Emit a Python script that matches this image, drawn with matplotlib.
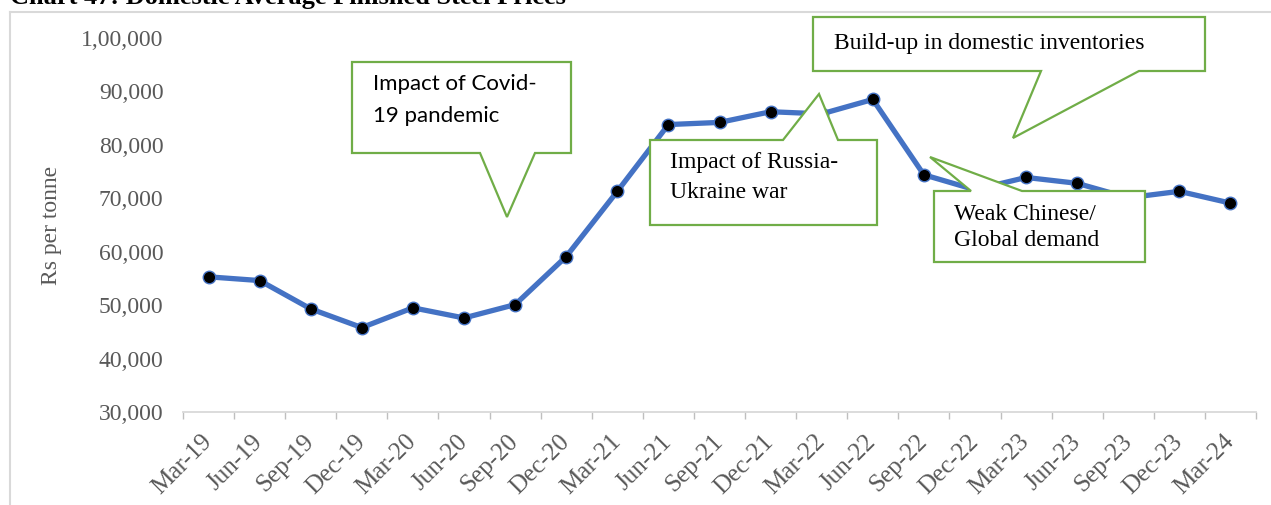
import matplotlib
matplotlib.use("Agg")
import matplotlib.pyplot as plt
from matplotlib.patches import Polygon
from matplotlib.lines import Line2D

# Quarterly domestic average finished steel prices (Rs per tonne)
quarters = ["Mar-19", "Jun-19", "Sep-19", "Dec-19", "Mar-20", "Jun-20", "Sep-20",
            "Dec-20", "Mar-21", "Jun-21", "Sep-21", "Dec-21", "Mar-22", "Jun-22",
            "Sep-22", "Dec-22", "Mar-23", "Jun-23", "Sep-23", "Dec-23", "Mar-24"]
prices = [55300, 54600, 49300, 45800, 49500, 47600, 50100, 59100, 71300, 83800,
          84200, 86200, 85800, 88500, 74400, 71600, 73900, 72800, 70100, 71300, 69100]

y_ticks = [30000, 40000, 50000, 60000, 70000, 80000, 90000, 100000]
y_tick_labels = ["30,000", "40,000", "50,000", "60,000", "70,000", "80,000",
                 "90,000", "1,00,000"]

title = "Chart 47: Domestic Average Finished Steel Prices"
y_label = "Rs per tonne"

W, H = 1271, 505
fig = plt.figure(figsize=(W / 100, H / 100), dpi=100)
serif = "Liberation Serif"
grey = "#595959"
green = "#70AD47"
blue = "#4472C4"


def fx(px):
    return px / W


def fy(py):
    return 1 - py / H


n = len(quarters)
# axes spans the plotting area
left, right, bottom, top = 183, 1256, 412, 38
ax = fig.add_axes([fx(left), fy(bottom), fx(right - left), (bottom - top) / H])

xs = list(range(n))
ax.plot(xs, prices, color=blue, lw=3.8, solid_joinstyle="round", zorder=3,
        marker="o", markersize=9, markerfacecolor="black",
        markeredgecolor=blue, markeredgewidth=1.0)

ax.set_xlim(-0.5, n - 0.5)
ax.set_ylim(30000, 100000)
ax.set_yticks(y_ticks)
ax.set_yticklabels(y_tick_labels, fontfamily=serif, fontsize=17, color=grey)
ax.set_xticks(xs)
ax.set_xticklabels(quarters, fontfamily=serif, fontsize=18, color=grey,
                   rotation=45, ha="right", va="center", rotation_mode="anchor")
ax.set_xticks([i - 0.5 for i in range(n + 1)], minor=True)
ax.tick_params(axis="x", which="major", length=0, pad=19)
ax.tick_params(axis="x", which="minor", length=5, color="#bfbfbf", width=1)
ax.tick_params(axis="y", length=0, pad=14)

for side in ["left", "right", "top"]:
    ax.spines[side].set_visible(False)
ax.spines["bottom"].set_color("#d9d9d9")
ax.spines["bottom"].set_linewidth(1.3)

ax.set_ylabel(y_label, fontfamily=serif, fontsize=17, color=grey)
ax.yaxis.set_label_coords((62 - left) / (right - left), 0.5)

# chart frame
fig.add_artist(Line2D([fx(10), fx(10)], [fy(12), 0], color="#d9d9d9", lw=1.5))
fig.add_artist(Line2D([fx(10), 1], [fy(12), fy(12)], color="#d9d9d9", lw=1.5))

fig.text(fx(10), fy(4), title, fontfamily=serif, fontsize=19, fontweight="bold",
         color="black", va="baseline", ha="left")

# callouts (outline with pointer built into the shape)
callouts = [
    [(352, 62), (571, 62), (571, 153), (535, 153), (507, 217), (480, 153), (352, 153)],
    [(650, 140), (783, 140), (819, 94), (838, 140), (877, 140), (877, 225), (650, 225)],
    [(813, 17), (1205, 17), (1205, 71), (1139, 71), (1013, 138), (1041, 71), (813, 71)],
    [(934, 191), (971, 191), (930, 157), (1022, 191), (1145, 191), (1145, 262), (934, 262)],
]
for pts in callouts:
    fig.add_artist(Polygon([(fx(x), fy(y)) for x, y in pts], closed=True,
                           facecolor="white", edgecolor=green, lw=1.6,
                           transform=fig.transFigure, zorder=5))

notes = [
    (373, 84, "Impact of Covid-", "Lato"),
    (373, 116, "19 pandemic", "Lato"),
    (670, 162, "Impact of Russia-", serif),
    (670, 192, "Ukraine war", serif),
    (834, 43, "Build-up in domestic inventories", serif),
    (954, 215, "Weak Chinese/", serif),
    (954, 241, "Global demand", serif),
]
for x, y, s, fam in notes:
    fig.text(fx(x), fy(y), s, fontfamily=fam, fontsize=17 if fam == serif else 16,
             color="black", ha="left", va="center", zorder=6)

fig.savefig("out.png", dpi=100)
